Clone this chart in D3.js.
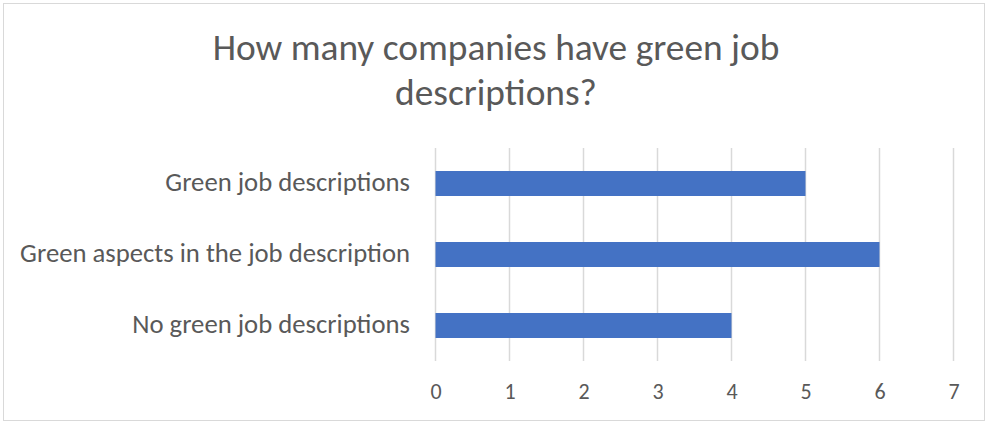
<!DOCTYPE html>
<html>
<head>
<meta charset="utf-8">
<script src="https://cdn.jsdelivr.net/npm/d3@7"></script>
<style>
  html, body { margin: 0; padding: 0; background: #fff; }
  svg { display: block; }
  text { font-family: Carlito, Calibri, Lato, "Noto Sans", sans-serif; fill: #595959; }
</style>
</head>
<body>
<svg id="chart" width="988" height="422"></svg>
<script>
// Chart data
const titleLines = ["How many companies have green job", "descriptions?"];
const categories = ["Green job descriptions", "Green aspects in the job description", "No green job descriptions"];
const values = [5, 6, 4];
const xTicks = [0, 1, 2, 3, 4, 5, 6, 7];

const W = 988, H = 422;
const plot = { left: 435.5, right: 953.5, top: 148, bottom: 361 };

const svg = d3.select("#chart");

// Outer frame
svg.append("rect")
  .attr("x", 3.5).attr("y", 3.5)
  .attr("width", W - 7).attr("height", H - 5)
  .attr("fill", "#fff").attr("stroke", "#d9d9d9").attr("stroke-width", 1);

const x = d3.scaleLinear().domain([0, 7]).range([plot.left, plot.right]);
const y = d3.scaleBand().domain(categories).range([plot.top, plot.bottom])
  .paddingInner(0.648).paddingOuter(0.324);

// Vertical gridlines
svg.append("g").selectAll("line").data(xTicks).join("line")
  .attr("x1", d => x(d)).attr("x2", d => x(d))
  .attr("y1", plot.top).attr("y2", plot.bottom)
  .attr("stroke", "#d9d9d9").attr("stroke-width", 1.5);

// Bars
svg.append("g").selectAll("rect").data(categories).join("rect")
  .attr("x", x(0))
  .attr("y", d => y(d))
  .attr("width", (d, i) => x(values[i]) - x(0))
  .attr("height", y.bandwidth())
  .attr("fill", "#4472C4");

// X axis tick labels
const xAxis = d3.axisBottom(x).tickValues(xTicks).tickSize(0).tickPadding(0).tickFormat(d3.format("d"));
const gx = svg.append("g").attr("transform", `translate(0,${plot.bottom})`).call(xAxis);
gx.select(".domain").remove();
gx.attr("font-size", null).attr("font-family", null);
gx.selectAll("text")
  .attr("dy", null).attr("y", 38)
  .style("font-size", "22px").style("fill", "#595959");

// Y axis category labels
const yAxis = d3.axisLeft(y).tickSize(0).tickPadding(0);
const gy = svg.append("g").attr("transform", `translate(410,0)`).call(yAxis);
gy.select(".domain").remove();
gy.attr("font-size", null).attr("font-family", null);
gy.selectAll("text")
  .attr("dy", null).attr("y", 7)
  .style("font-size", "21px").style("fill", "#595959");

// Fit the widest category label to the available width
const widest = d3.max(gy.selectAll("text").nodes(), n => n.getComputedTextLength());
const catSize = 21 * 390 / widest;
gy.selectAll("text").style("font-size", catSize + "px");

// Title
const title = svg.append("g");
title.selectAll("text").data(titleLines).join("text")
  .attr("x", 496)
  .attr("y", (d, i) => 60 + i * 45)
  .attr("text-anchor", "middle")
  .style("font-size", "32px")
  .text(d => d);
const tw = title.select("text").node().getComputedTextLength();
title.selectAll("text").style("font-size", (32 * 567 / tw) + "px");
</script>
</body>
</html>
